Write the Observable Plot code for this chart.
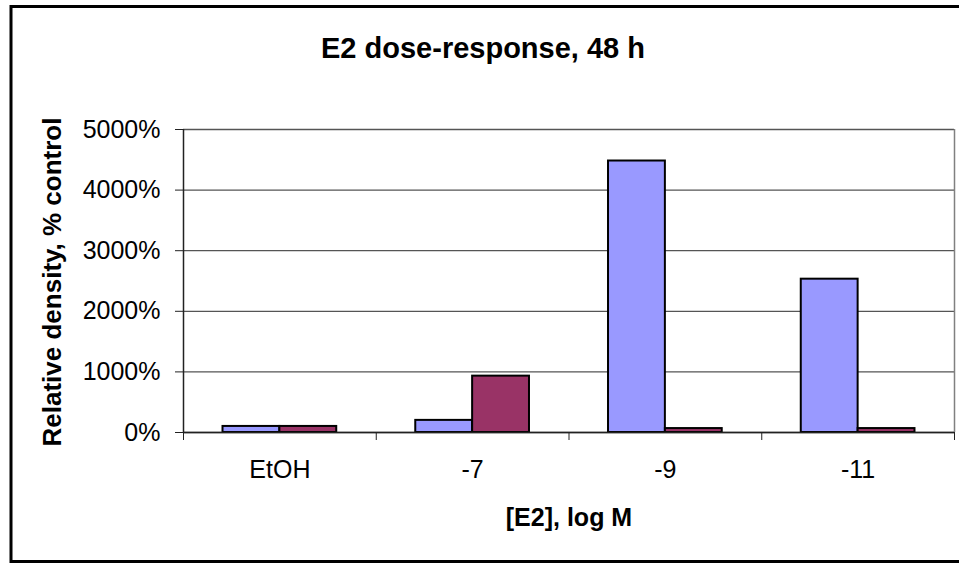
<!DOCTYPE html>
<html>
<head>
<meta charset="utf-8">
<script src="https://cdn.jsdelivr.net/npm/d3@7"></script>
<script src="https://cdn.jsdelivr.net/npm/@observablehq/plot@0.6"></script>
<style>
  html, body { margin: 0; padding: 0; background: #fff; }
  svg { display: block; }
</style>
</head>
<body>
<div id="chart"></div>
<script>
const categories = ["EtOH", "-7", "-9", "-11"];
const seriesBlue = [100, 200, 4480, 2530];
const seriesRed = [100, 930, 65, 65];
const yTicks = [0, 1000, 2000, 3000, 4000, 5000];
const seriesColors = ["#9999FF", "#993366"];
const titleText = "E2 dose-response, 48 h";
const yTitle = "Relative density, % control";
const xTitle = "[E2], log M";

const W = 0.295; // bar width as fraction of category band
const data = categories.flatMap((c, i) => [
  {c, i, s: 0, v: seriesBlue[i]},
  {c, i, s: 1, v: seriesRed[i]}
]);
const boundaries = d3.range(categories.length + 1);
const centers = categories.map((c, i) => i + 0.5);

const FONT = "Liberation Sans, Arial, Helvetica, sans-serif";

const chart = Plot.plot({
  width: 959,
  height: 565,
  marginLeft: 183,
  marginRight: 5,
  marginTop: 129,
  marginBottom: 133,
  style: {fontFamily: FONT, background: "#fff", color: "#000"},
  x: {type: "linear", domain: [0, categories.length]},
  y: {domain: [0, 5000]},
  marks: [
    Plot.ruleY(yTicks, {y: d => d, stroke: "#555", strokeWidth: 1.3}),
    Plot.ruleX([categories.length], {stroke: "#808080", strokeWidth: 1.5}),
    Plot.rectY(data, {
      x1: d => d.i + 0.5 - (d.s === 0 ? W : 0),
      x2: d => d.i + 0.5 + (d.s === 1 ? W : 0),
      y: "v",
      fill: d => seriesColors[d.s],
      stroke: "#000",
      strokeWidth: 2,
      insetLeft: 0, insetRight: 0
    }),
    Plot.ruleX([0], {stroke: "#222", strokeWidth: 1.5}),
    Plot.ruleY([0], {stroke: "#222", strokeWidth: 1.5}),
    Plot.axisY({ticks: yTicks, tickFormat: d => d + "%", tickSize: 8, tickPadding: 15,
      fontSize: 25, label: null, stroke: "#222"}),
    Plot.axisX({ticks: boundaries, tickFormat: () => "", tickSize: 8, label: null, stroke: "#222"}),
    Plot.axisX({ticks: centers, tickFormat: d => categories[Math.round(d - 0.5)], tickSize: 0,
      tickPadding: 28, fontSize: 25, label: null})
  ]
});

const svg = d3.select(chart);
// outer chart border
svg.append("rect")
  .attr("x", 11).attr("y", 6.5).attr("width", 960).attr("height", 555)
  .attr("fill", "none").attr("stroke", "#000").attr("stroke-width", 3);
svg.append("text")
  .attr("x", 483).attr("y", 58)
  .attr("text-anchor", "middle")
  .attr("font-family", FONT).attr("font-weight", "bold").attr("font-size", 29)
  .text(titleText);
svg.append("text")
  .attr("transform", "translate(61,282) rotate(-90)")
  .attr("text-anchor", "middle")
  .attr("font-family", FONT).attr("font-weight", "bold").attr("font-size", 26)
  .text(yTitle);
svg.append("text")
  .attr("x", 569).attr("y", 526)
  .attr("text-anchor", "middle")
  .attr("font-family", FONT).attr("font-weight", "bold").attr("font-size", 25)
  .text(xTitle);

document.getElementById("chart").appendChild(chart);
</script>
</body>
</html>
